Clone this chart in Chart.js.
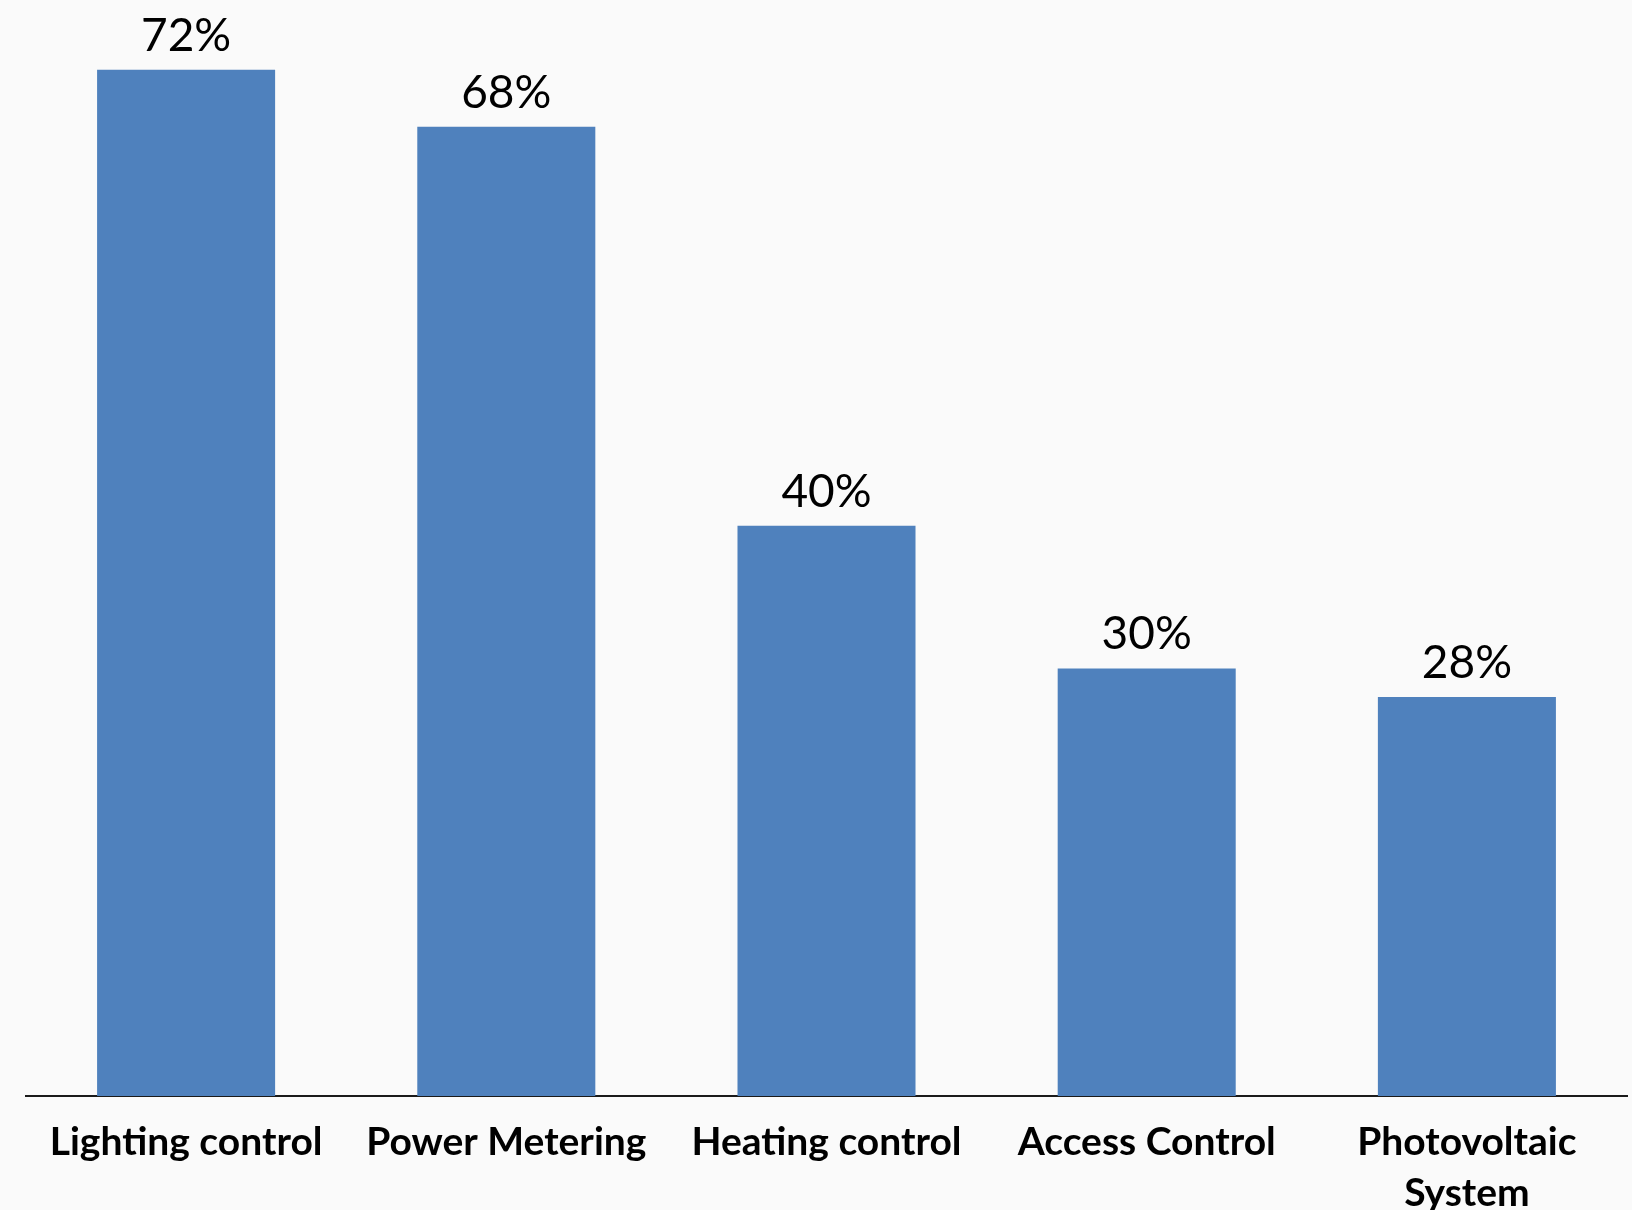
<!DOCTYPE html>
<html>
<head>
<meta charset="utf-8">
<script src="https://cdn.jsdelivr.net/npm/chart.js@4/dist/chart.umd.min.js"></script>
<style>
  html, body { margin: 0; padding: 0; background: #fafafa; }
  #wrap { width: 1632px; height: 1210px; position: relative; }
</style>
</head>
<body>
<div id="wrap"><canvas id="c" width="1632" height="1210"></canvas></div>
<script>
// Share of buildings using each automation system (%)
const categories = ['Lighting control', 'Power Metering', 'Heating control', 'Access Control', ['Photovoltaic', 'System']];
const values = [72, 68, 40, 30, 28];
const valueLabels = ['72%', '68%', '40%', '30%', '28%'];

// Writes the percentage above each bar
const barValueLabels = {
  id: 'barValueLabels',
  afterDatasetsDraw(chart) {
    const ctx = chart.ctx;
    const meta = chart.getDatasetMeta(0);
    ctx.save();
    ctx.font = '46px Lato, "Open Sans", sans-serif';
    ctx.fillStyle = '#000000';
    ctx.textAlign = 'center';
    ctx.textBaseline = 'alphabetic';
    meta.data.forEach((bar, i) => {
      ctx.fillText(valueLabels[i], bar.x, bar.y - 19);
    });
    ctx.restore();
  }
};

new Chart(document.getElementById('c'), {
  type: 'bar',
  data: {
    labels: categories,
    datasets: [{
      data: values,
      backgroundColor: '#4f81bd',
      borderWidth: 0,
      barPercentage: 0.556,
      categoryPercentage: 1.0
    }]
  },
  options: {
    responsive: false,
    animation: false,
    layout: { padding: { top: 27, left: 26, right: 5, bottom: 0 } },
    plugins: { legend: { display: false }, tooltip: { enabled: false } },
    scales: {
      x: {
        grid: { display: false },
        border: { display: true, color: '#1a1a1a', width: 2 },
        ticks: {
          color: '#000000',
          font: { family: 'Lato, "Open Sans", sans-serif', size: 39, weight: 'bold', lineHeight: 1.3 },
          padding: 13,
          maxRotation: 0,
          autoSkip: false
        },
        afterFit(scale) { scale.height = 114; }
      },
      y: {
        display: false,
        min: 0,
        max: 75
      }
    }
  },
  plugins: [barValueLabels]
});
</script>
</body>
</html>
